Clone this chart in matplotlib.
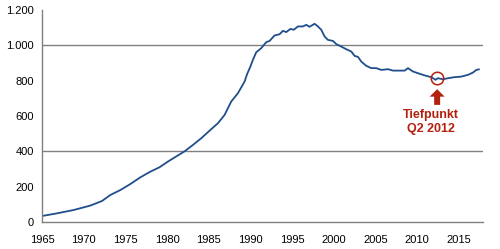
import matplotlib
matplotlib.use("Agg")
import matplotlib.pyplot as plt
from matplotlib.ticker import FuncFormatter

years = [1965, 1966.8, 1968.8, 1970.8, 1972.2, 1973.2, 1974.4, 1975.6, 1976.8,
         1978.0, 1979.1, 1980.1, 1981.2, 1982.1, 1983.1, 1984.1, 1985.1,
         1986.1, 1986.9, 1987.7, 1988.5, 1989.3, 1989.6, 1990.0, 1990.3, 1990.7,
         1991.3, 1991.9, 1992.3, 1992.9, 1993.5, 1993.9, 1994.3, 1994.8, 1995.2,
         1995.7, 1996.3, 1996.7, 1997.1, 1997.7, 1998.1, 1998.5, 1998.9, 1999.3,
         1999.9, 2000.3, 2000.9, 2001.5, 2002.1, 2002.5, 2002.9, 2003.3, 2003.9,
         2004.5, 2005.1, 2005.7, 2006.5, 2007.1, 2007.7, 2008.5, 2008.9, 2009.5,
         2010.3, 2011.1, 2011.7, 2012.2, 2012.5, 2013.1, 2013.7, 2014.5, 2015.3,
         2016.1, 2016.7, 2017.1, 2017.4]
values = [34, 49, 68, 93, 119, 153, 181, 215, 253,
          285, 310, 342, 374, 400, 436, 474, 517,
          559, 606, 682, 729, 795, 837, 880, 918, 961,
          984, 1018, 1025, 1056, 1063, 1082, 1075, 1093, 1088,
          1107, 1107, 1116, 1105, 1122, 1107, 1088, 1050, 1031,
          1025, 1007, 993, 978, 965, 940, 935, 908, 884,
          871, 871, 861, 865, 857, 857, 857, 871, 852,
          839, 827, 820, 805, 814, 808, 814, 820, 823,
          833, 846, 861, 864]

x_ticks = [1965, 1970, 1975, 1980, 1985, 1990, 1995, 2000, 2005, 2010, 2015]
y_ticks = [0, 200, 400, 600, 800, 1000, 1200]
grid_levels = [400, 1000]
circle_year, circle_value = 2012.4, 814
annot_text = "Tiefpunkt\nQ2 2012"

plt.rcParams['font.family'] = ['Liberation Sans', 'DejaVu Sans']
fig = plt.figure(figsize=(5, 2.49), dpi=100)
ax = fig.add_axes([0.084, 0.1084, 0.882, 0.8514])

ax.plot(years, values, color='#1F4E8C', lw=1.3)
for g in grid_levels:
    ax.axhline(g, color='#808080', lw=1.0, zorder=0)

ax.set_xlim(1965, 2017.9)
ax.set_ylim(0, 1200)
ax.set_xticks(x_ticks)
ax.set_yticks(y_ticks)
ax.yaxis.set_major_formatter(FuncFormatter(lambda v, p: f"{int(v):,}".replace(",", ".")))
ax.tick_params(length=0, labelsize=8, pad=6)
ax.tick_params(axis='x', pad=9)
for s in ['top', 'right']:
    ax.spines[s].set_visible(False)
for s in ['left', 'bottom']:
    ax.spines[s].set_color('#808080')
    ax.spines[s].set_linewidth(1.0)

red = '#B3200E'
ax.plot([circle_year], [circle_value], marker='o', ms=9, mfc='none',
        mec=red, mew=1.1)
ax.annotate('', xy=(circle_year, 752), xytext=(circle_year, 663),
            arrowprops=dict(width=4.3, headwidth=10.8, headlength=5.4,
                            color=red, lw=0, shrink=0))
ax.text(2011.65, 641, annot_text, color=red, fontsize=9,
        fontweight='bold', ha='center', va='top', linespacing=1.2)

fig.savefig('out.png', dpi=100)
